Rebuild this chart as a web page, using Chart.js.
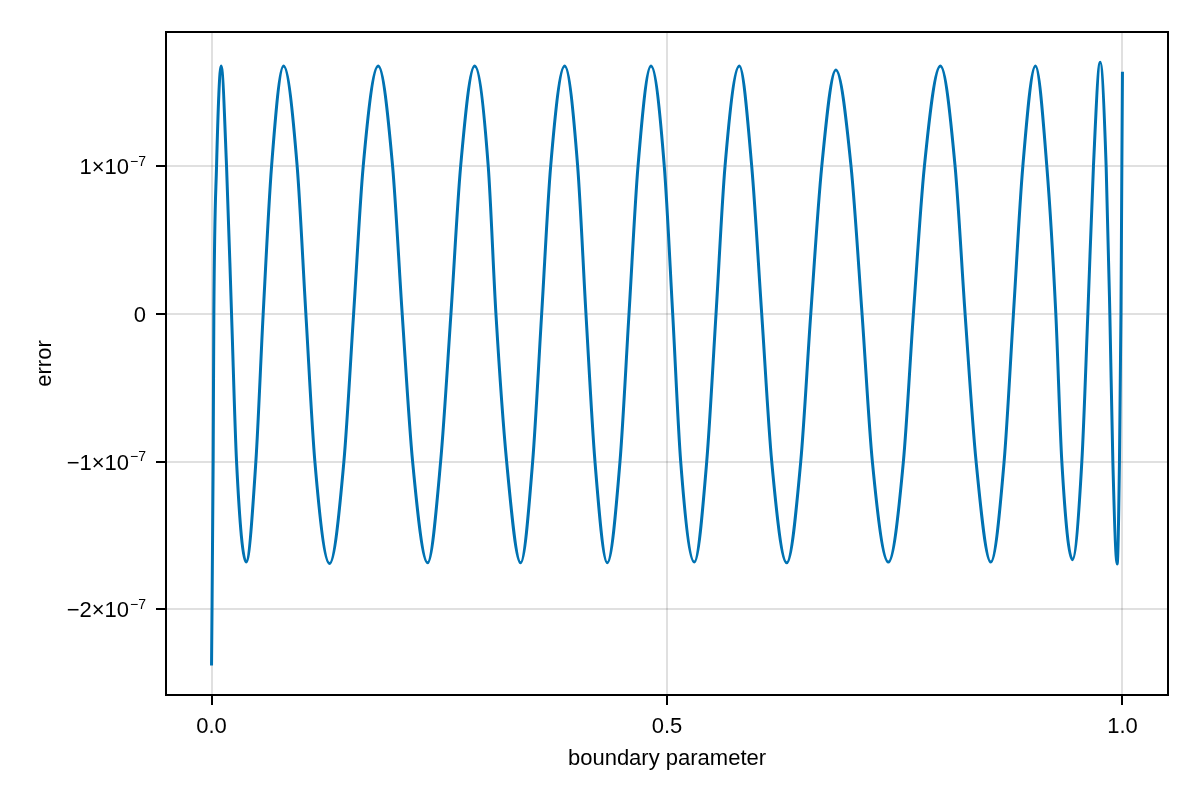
<!DOCTYPE html>
<html>
<head>
<meta charset="utf-8">
<script src="https://cdn.jsdelivr.net/npm/chart.js@4.4.1/dist/chart.umd.min.js"></script>
<style>
  html, body { margin: 0; padding: 0; background: #fff; }
  canvas { display: block; }
</style>
</head>
<body>
<canvas id="errorChart" width="1200" height="800" style="width:1200px;height:800px"></canvas>
<script>
// boundary parameter (x) and error in units of 1e-7 (y)
const boundaryParam = [
  0, 0.00176, 0.00253, 0.00549, 0.01054, 0.01647, 0.02196, 0.02745, 0.03800, 0.04865,
  0.05667, 0.06589, 0.07907, 0.09400, 0.10356, 0.11344, 0.12958, 0.14529, 0.15594, 0.16648,
  0.18295, 0.19877, 0.20931, 0.22073, 0.23720, 0.25148, 0.26279, 0.27345, 0.28882, 0.30376,
  0.31221, 0.32396, 0.33934, 0.35251, 0.36240, 0.37228, 0.38766, 0.40193, 0.41105, 0.42093,
  0.43444, 0.44839, 0.45827, 0.46815, 0.48243, 0.49703, 0.50626, 0.51504, 0.52998, 0.54360,
  0.55381, 0.56369, 0.57940, 0.59302, 0.60400, 0.61498, 0.63145, 0.64682, 0.65781, 0.66989,
  0.68537, 0.70206, 0.71414, 0.72545, 0.74303, 0.75950, 0.77048, 0.78256, 0.80013, 0.81627,
  0.82726, 0.83934, 0.85548, 0.87008, 0.88030, 0.89062, 0.90446, 0.91698, 0.92686, 0.93345,
  0.94509, 0.95541, 0.96200, 0.96815, 0.97551, 0.98210, 0.98616, 0.98946, 0.99418, 0.99671,
  0.99835, 0.99934, 1.0
];
const errorE7 = [
  -2.38, -1, 0, 1, 1.68, 1, 0, -1, -1.68, -1,
  0, 1, 1.68, 1, 0, -1, -1.69, -1, 0, 1,
  1.68, 1, 0, -1, -1.685, -1, 0, 1, 1.68, 1,
  0, -1, -1.685, -1, 0, 1, 1.68, 1, 0, -1,
  -1.685, -1, 0, 1, 1.68, 1, 0, -1, -1.68, -1,
  0, 1, 1.68, 1, 0, -1, -1.685, -1, 0, 1,
  1.653, 1, 0, -1, -1.68, -1, 0, 1, 1.68, 1,
  0, -1, -1.68, -1, 0, 1, 1.68, 1, 0, -1,
  -1.664, -1, 0, 1, 1.705, 1, 0, -1, -1.693, -1,
  0, 1, 1.641
];

const xTickValues = [0, 0.5, 1.0];
const xTickLabels = ['0.0', '0.5', '1.0'];
const yTickValues = [-2e-7, -1e-7, 0, 1e-7];
// y tick labels split into mantissa part and superscript exponent
const yTickBase = ['\u22122\u00d710', '\u22121\u00d710', '0', '1\u00d710'];
const yTickExp = ['\u22127', '\u22127', '', '\u22127'];

const FONT = '"Liberation Sans", Arial, "DejaVu Sans", sans-serif';
const FONT_SIZE = 22;

// black frame on all four sides of the plot area
const framePlugin = {
  id: 'frame',
  afterDraw(chart) {
    const { ctx, chartArea: a } = chart;
    ctx.save();
    ctx.strokeStyle = '#000';
    ctx.lineWidth = 2;
    ctx.strokeRect(a.left, a.top, a.right - a.left, a.bottom - a.top);
    ctx.restore();
  },
};

// y tick labels with a real raised exponent, like 1×10^-7
const yLabelPlugin = {
  id: 'yLabels',
  afterDraw(chart) {
    const { ctx } = chart;
    const yScale = chart.scales.y;
    const right = yScale.right - 20;
    ctx.save();
    ctx.fillStyle = '#000';
    ctx.textBaseline = 'alphabetic';
    ctx.textAlign = 'left';
    yTickValues.forEach((v, i) => {
      const y = yScale.getPixelForValue(v);
      const baseline = y + 8;
      ctx.font = `${FONT_SIZE}px ${FONT}`;
      const baseW = ctx.measureText(yTickBase[i]).width;
      ctx.font = `14px ${FONT}`;
      const expW = yTickExp[i] ? ctx.measureText(yTickExp[i]).width + 1 : 0;
      const x0 = right - baseW - expW;
      ctx.font = `${FONT_SIZE}px ${FONT}`;
      ctx.fillText(yTickBase[i], x0, baseline);
      if (yTickExp[i]) {
        ctx.font = `14px ${FONT}`;
        ctx.fillText(yTickExp[i], x0 + baseW + 1, baseline - 8.5);
      }
    });
    ctx.restore();
  },
};

function fixedTicks(values) {
  return (axis) => {
    axis.ticks = values.map((v) => ({ value: v }));
  };
}

const ctx = document.getElementById('errorChart').getContext('2d');
new Chart(ctx, {
  type: 'line',
  data: {
    datasets: [
      {
        label: 'error',
        data: boundaryParam.map((x, i) => ({ x: x, y: errorE7[i] * 1e-7 })),
        borderColor: '#0072b2',
        borderWidth: 3,
        pointRadius: 0,
        fill: false,
        cubicInterpolationMode: 'monotone',
      },
    ],
  },
  options: {
    responsive: false,
    devicePixelRatio: 1,
    animation: false,
    layout: { padding: { left: 0, top: 32, right: 32, bottom: 0 } },
    plugins: {
      legend: { display: false },
      tooltip: { enabled: false },
    },
    scales: {
      x: {
        type: 'linear',
        min: -0.05,
        max: 1.05,
        afterBuildTicks: fixedTicks(xTickValues),
        afterFit: (scale) => { scale.height = 105; },
        grid: {
          color: 'rgba(0,0,0,0.12)',
          lineWidth: 2,
          tickLength: 10,
          tickColor: '#000',
          tickWidth: 2,
        },
        border: { display: false },
        ticks: {
          padding: 9,
          color: '#000',
          font: { family: FONT, size: FONT_SIZE },
          callback: (v) => xTickLabels[xTickValues.indexOf(v)],
        },
        title: {
          display: true,
          text: 'boundary parameter',
          color: '#000',
          font: { family: FONT, size: FONT_SIZE },
          padding: { top: 0, bottom: 28 },
        },
      },
      y: {
        type: 'linear',
        min: -2.58e-7,
        max: 1.91e-7,
        afterBuildTicks: fixedTicks(yTickValues),
        afterFit: (scale) => { scale.width = 166; },
        grid: {
          color: 'rgba(0,0,0,0.12)',
          lineWidth: 2,
          tickLength: 10,
          tickColor: '#000',
          tickWidth: 2,
        },
        border: { display: false },
        ticks: {
          display: false,
        },
        title: {
          display: true,
          text: 'error',
          color: '#000',
          font: { family: FONT, size: FONT_SIZE },
          padding: { top: 32, bottom: 0 },
        },
      },
    },
  },
  plugins: [framePlugin, yLabelPlugin],
});
</script>
</body>
</html>
